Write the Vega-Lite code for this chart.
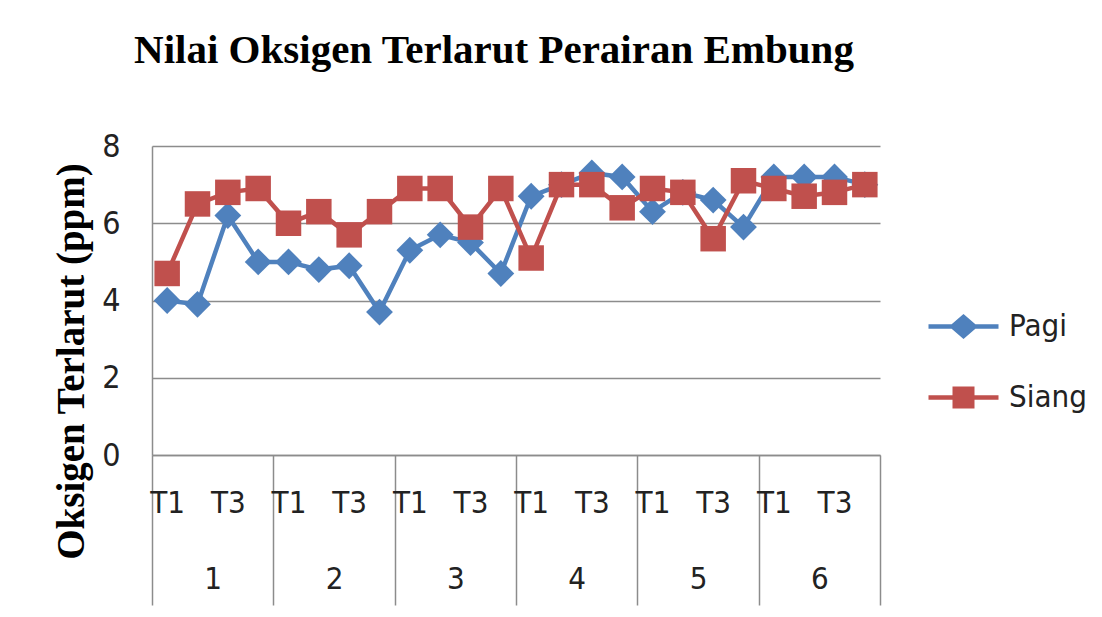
{
  "$schema": "https://vega.github.io/schema/vega-lite/v6.json",
  "width": 728,
  "height": 309,
  "autosize": "none",
  "padding": {"left": 152, "top": 146, "right": 222, "bottom": 162},
  "background": "white",
  "config": {"view": {"stroke": null}},
  "title": {
    "text": "Nilai Oksigen Terlarut Perairan Embung",
    "font": "Liberation Serif",
    "fontSize": 41,
    "fontWeight": "bold",
    "color": "black",
    "anchor": "middle",
    "frame": "group",
    "dx": -22,
    "baseline": "alphabetic",
    "offset": 26
  },
  "data": {
    "values": [
      {"key": "1-T1", "group": "1", "series": "Pagi", "value": 4.0},
      {"key": "1-T2", "group": "1", "series": "Pagi", "value": 3.9},
      {"key": "1-T3", "group": "1", "series": "Pagi", "value": 6.2},
      {"key": "1-T4", "group": "1", "series": "Pagi", "value": 5.0},
      {"key": "2-T1", "group": "2", "series": "Pagi", "value": 5.0},
      {"key": "2-T2", "group": "2", "series": "Pagi", "value": 4.8},
      {"key": "2-T3", "group": "2", "series": "Pagi", "value": 4.9},
      {"key": "2-T4", "group": "2", "series": "Pagi", "value": 3.7},
      {"key": "3-T1", "group": "3", "series": "Pagi", "value": 5.3},
      {"key": "3-T2", "group": "3", "series": "Pagi", "value": 5.7},
      {"key": "3-T3", "group": "3", "series": "Pagi", "value": 5.5},
      {"key": "3-T4", "group": "3", "series": "Pagi", "value": 4.7},
      {"key": "4-T1", "group": "4", "series": "Pagi", "value": 6.7},
      {"key": "4-T2", "group": "4", "series": "Pagi", "value": 7.0},
      {"key": "4-T3", "group": "4", "series": "Pagi", "value": 7.3},
      {"key": "4-T4", "group": "4", "series": "Pagi", "value": 7.2},
      {"key": "5-T1", "group": "5", "series": "Pagi", "value": 6.3},
      {"key": "5-T2", "group": "5", "series": "Pagi", "value": 6.8},
      {"key": "5-T3", "group": "5", "series": "Pagi", "value": 6.6},
      {"key": "5-T4", "group": "5", "series": "Pagi", "value": 5.9},
      {"key": "6-T1", "group": "6", "series": "Pagi", "value": 7.2},
      {"key": "6-T2", "group": "6", "series": "Pagi", "value": 7.2},
      {"key": "6-T3", "group": "6", "series": "Pagi", "value": 7.2},
      {"key": "6-T4", "group": "6", "series": "Pagi", "value": 7.0},
      {"key": "1-T1", "group": "1", "series": "Siang", "value": 4.7},
      {"key": "1-T2", "group": "1", "series": "Siang", "value": 6.5},
      {"key": "1-T3", "group": "1", "series": "Siang", "value": 6.8},
      {"key": "1-T4", "group": "1", "series": "Siang", "value": 6.9},
      {"key": "2-T1", "group": "2", "series": "Siang", "value": 6.0},
      {"key": "2-T2", "group": "2", "series": "Siang", "value": 6.3},
      {"key": "2-T3", "group": "2", "series": "Siang", "value": 5.7},
      {"key": "2-T4", "group": "2", "series": "Siang", "value": 6.3},
      {"key": "3-T1", "group": "3", "series": "Siang", "value": 6.9},
      {"key": "3-T2", "group": "3", "series": "Siang", "value": 6.9},
      {"key": "3-T3", "group": "3", "series": "Siang", "value": 5.9},
      {"key": "3-T4", "group": "3", "series": "Siang", "value": 6.9},
      {"key": "4-T1", "group": "4", "series": "Siang", "value": 5.1},
      {"key": "4-T2", "group": "4", "series": "Siang", "value": 7.0},
      {"key": "4-T3", "group": "4", "series": "Siang", "value": 7.0},
      {"key": "4-T4", "group": "4", "series": "Siang", "value": 6.4},
      {"key": "5-T1", "group": "5", "series": "Siang", "value": 6.9},
      {"key": "5-T2", "group": "5", "series": "Siang", "value": 6.8},
      {"key": "5-T3", "group": "5", "series": "Siang", "value": 5.6},
      {"key": "5-T4", "group": "5", "series": "Siang", "value": 7.1},
      {"key": "6-T1", "group": "6", "series": "Siang", "value": 6.9},
      {"key": "6-T2", "group": "6", "series": "Siang", "value": 6.7},
      {"key": "6-T3", "group": "6", "series": "Siang", "value": 6.8},
      {"key": "6-T4", "group": "6", "series": "Siang", "value": 7.0}
    ]
  },
  "layer": [
    {
      "mark": {"type": "point", "opacity": 0},
      "encoding": {
        "x": {
          "field": "group",
          "type": "ordinal",
          "scale": {"type": "band", "paddingInner": 0, "paddingOuter": 0},
          "axis": {
            "orient": "bottom",
            "title": null,
            "tickBand": "extent",
            "tickSize": 150,
            "tickColor": "#8c8c8c",
            "tickWidth": 1.5,
            "domain": false,
            "grid": false,
            "labelAngle": 0,
            "labelPadding": -41,
            "labelFont": "Liberation Sans Narrow, DejaVu Sans Condensed, sans-serif",
            "labelFontSize": 31,
            "labelColor": "#222222"
          }
        }
      }
    },
    {
      "encoding": {
        "x": {
          "field": "key",
          "type": "ordinal",
          "scale": {"type": "point", "padding": 0.5},
          "axis": {
            "orient": "bottom",
            "title": null,
            "ticks": false,
            "labelAngle": 0,
            "labelPadding": 33,
            "labelOverlap": false,
            "labelExpr": "(split(datum.value,'-')[1] == 'T1' || split(datum.value,'-')[1] == 'T3') ? split(datum.value,'-')[1] : ''",
            "labelFont": "Liberation Sans Narrow, DejaVu Sans Condensed, sans-serif",
            "labelFontSize": 31,
            "labelColor": "#222222",
            "domainColor": "#8c8c8c",
            "domainWidth": 1.5
          }
        },
        "y": {
          "field": "value",
          "type": "quantitative",
          "scale": {"domain": [0, 8], "nice": false},
          "axis": {
            "title": "Oksigen Terlarut (ppm)",
            "titleFont": "Liberation Serif",
            "titleFontSize": 39,
            "titleFontWeight": "bold",
            "titleColor": "black",
            "titlePadding": 10,
            "titleY": 215,
            "values": [0, 2, 4, 6, 8],
            "ticks": false,
            "labelPadding": 32,
            "labelFont": "Liberation Sans Narrow, DejaVu Sans Condensed, sans-serif",
            "labelFontSize": 32,
            "labelColor": "#222222",
            "domainColor": "#8c8c8c",
            "domainWidth": 1.5,
            "gridColor": "#8c8c8c",
            "gridWidth": 1.5
          }
        }
      },
      "layer": [
        {
          "transform": [{"filter": "datum.series == 'Pagi'"}],
          "mark": {"type": "line", "color": "#4F81BD", "strokeWidth": 4.5}
        },
        {
          "transform": [{"filter": "datum.series == 'Pagi'"}],
          "mark": {"type": "point", "shape": "diamond", "filled": true, "color": "#4F81BD", "size": 720, "opacity": 1}
        },
        {
          "transform": [{"filter": "datum.series == 'Siang'"}],
          "mark": {"type": "line", "color": "#C0504D", "strokeWidth": 4.5}
        },
        {
          "transform": [{"filter": "datum.series == 'Siang'"}],
          "mark": {"type": "point", "shape": "square", "filled": true, "color": "#C0504D", "size": 650, "opacity": 1}
        },
        {
          "transform": [{"filter": "datum.series == 'legend-only'"}],
          "mark": {"type": "point", "filled": true, "size": 625, "opacity": 1, "fillOpacity": 1},
          "encoding": {
            "color": {
              "field": "series",
              "type": "nominal",
              "scale": {"domain": ["Pagi", "Siang"], "range": ["#4F81BD", "#C0504D"]},
              "legend": {
                "orient": "none",
                "legendX": 796,
                "legendY": 165,
                "title": null,
                "symbolOpacity": 1,
                "symbolFillColor": null,
                "symbolSize": 625,
                "symbolStrokeWidth": 0,
                "labelOffset": 30,
                "rowPadding": 39,
                "labelFont": "Liberation Sans Narrow, DejaVu Sans Condensed, sans-serif",
                "labelFontSize": 31,
                "labelColor": "#222222"
              }
            },
            "shape": {
              "field": "series",
              "type": "nominal",
              "scale": {
                "domain": ["Pagi", "Siang"],
                "range": [
                  "M-2.8,-0.18L-0.95,-0.18L0,-1L0.95,-0.18L2.8,-0.18L2.8,0.18L0.95,0.18L0,1L-0.95,0.18L-2.8,0.18Z",
                  "M-2.8,-0.18L-0.88,-0.18L-0.88,-0.88L0.88,-0.88L0.88,-0.18L2.8,-0.18L2.8,0.18L0.88,0.18L0.88,0.88L-0.88,0.88L-0.88,0.18L-2.8,0.18Z"
                ]
              }
            }
          }
        }
      ]
    }
  ],
  "resolve": {"scale": {"x": "independent"}, "axis": {"x": "independent"}}
}
